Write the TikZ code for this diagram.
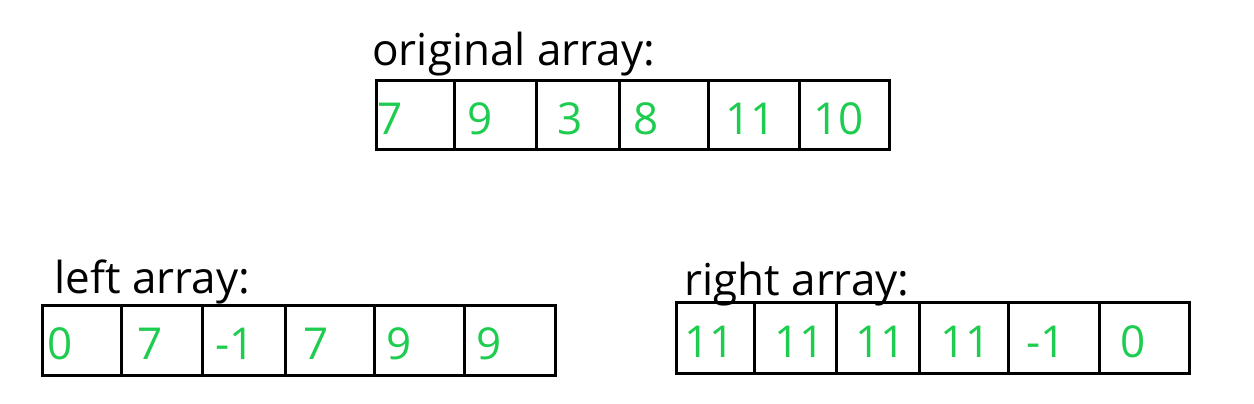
\documentclass[tikz,border=0pt]{standalone}
\usepackage{fontspec}
\setmainfont{Open Sans}
\usepackage{xcolor}
\definecolor{numgreen}{RGB}{30,205,80}

\begin{document}
\begin{tikzpicture}[x=0.5pt,y=-0.5pt]
\tikzset{cell/.style={line width=1.5pt},
  num/.style={anchor=base west, inner sep=0pt, text=numgreen, font=\fontsize{22}{26}\selectfont},
  title/.style={anchor=base west, inner sep=0pt, font=\fontsize{22}{26}\selectfont}}
\useasboundingbox (0,0) rectangle (1254,403);

% original array
\node[title] (orig) at (372,65) {original array:};
\draw[cell] (376,80) rectangle (889,149);
\foreach \x in {454,536,619,708,799}
\draw[cell] (\x,80) -- (\x,149);
\foreach \x/\v [count=\i] in {377/7,467/9,557/3,633/8,725/11,813/10}
\node[num] (o\i) at (\x,134) {\v};

% left array
\node[title] (left) at (54,293) {left array:};
\draw[cell] (42,305) rectangle (555,375);
\foreach \x in {121,202,285,374,464}
\draw[cell] (\x,305) -- (\x,375);
\foreach \x/\v [count=\i] in {47/0,137/7,215/-1,303/7,386/9,476/9}
\node[num] (l\i) at (\x,359) {\v};

% right array
\node[title] (right) at (684,295) {right array:};
\draw[cell] (676,302) rectangle (1189,373);
\foreach \x in {754,836,919,1008,1099}
\draw[cell] (\x,302) -- (\x,373);
\foreach \x/\v [count=\i] in {684/11,774/11,855/11,940/11,1026/-1,1120/0}
\node[num] (r\i) at (\x,357) {\v};
\end{tikzpicture}
\end{document}
